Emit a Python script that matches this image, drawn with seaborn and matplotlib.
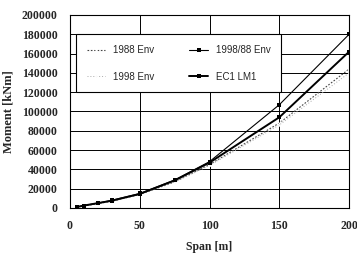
import numpy as np
import pandas as pd
import matplotlib
matplotlib.use("Agg")
import matplotlib.pyplot as plt
import seaborn as sns

# data --->
span = [5, 10, 20, 30, 50, 75, 100, 150, 200]
env_1988 = [800, 2000, 4500, 7000, 14000, 27000, 45000, 88000, 144000]
env_1998 = [800, 2000, 4500, 7000, 14000, 27000, 44000, 86000, 140000]
env_1998_88 = [1000, 2500, 5000, 8000, 15000, 29000, 48000, 107000, 180000]
ec1_lm1 = [1000, 2500, 5000, 7500, 14500, 28500, 47000, 94000, 162000]

x_ticks = [0, 50, 100, 150, 200]
y_ticks = list(range(0, 200001, 20000))

sns.set_style("white")
plt.rcParams['font.family'] = ['Liberation Serif', 'DejaVu Serif']

fig = plt.figure(figsize=(3.57, 2.58), dpi=100)
ax = fig.add_axes([0.196, 0.194, 0.782, 0.748])

# series --->
sns.lineplot(x=span, y=env_1988, ax=ax, color='#444444', lw=0.8, linestyle=(0, (1.5, 1.5)),
             marker='x', markersize=3, markeredgewidth=0.7, label='1988 Env')
sns.lineplot(x=span, y=env_1998, ax=ax, color='#aaaaaa', lw=0.7, linestyle=(0, (1, 2)),
             marker='.', markersize=2, label='1998 Env')
sns.lineplot(x=span, y=env_1998_88, ax=ax, color='black', lw=0.8,
             marker='s', markersize=2.5, markeredgewidth=0, label='1998/88 Env')
sns.lineplot(x=span, y=ec1_lm1, ax=ax, color='black', lw=1.4,
             marker='s', markersize=3, markeredgewidth=0, label='EC1 LM1')

ax.set_xlim(0, 200)
ax.set_ylim(0, 200000)
ax.set_xticks(x_ticks)
ax.set_yticks(y_ticks)
ax.tick_params(axis='both', direction='out', length=3, width=0.8, labelsize=8.5, pad=6)
for lab in ax.get_xticklabels() + ax.get_yticklabels():
    lab.set_fontweight('bold')
ax.grid(True, color='black', lw=0.7)
for s in ax.spines.values():
    s.set_color('black')
    s.set_linewidth(0.8)

ax.set_xlabel('Span [m]', fontsize=8.5, fontweight='bold', labelpad=6)
ax.set_ylabel('Moment [kNm]', fontsize=9, fontweight='bold', labelpad=5)

leg = ax.legend(ncol=2, loc='upper left', bbox_to_anchor=(0.005, 0.925),
                prop={'family': 'Liberation Sans', 'size': 7},
                frameon=True, fancybox=False, edgecolor='black', framealpha=1,
                borderpad=1.1, labelspacing=1.7, columnspacing=3.6, handlelength=1.9)
leg.get_frame().set_linewidth(0.8)

fig.savefig('out.png', dpi=100)
